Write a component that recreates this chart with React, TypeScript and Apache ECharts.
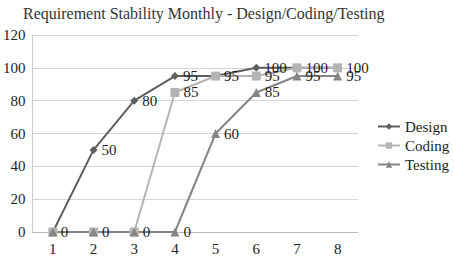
import React, { useEffect, useRef } from "react";
import * as echarts from "echarts";

const categories = ["1", "2", "3", "4", "5", "6", "7", "8"];
const design = [0, 50, 80, 95, 95, 100, 100, 100];
const coding = [0, 0, 0, 85, 95, 95, 100, 100];
const testing = [0, 0, 0, 0, 60, 85, 95, 95];
// labels hidden where an identical label of another series sits on the same spot
const designHiddenLabels = [4, 6, 7];
const codingHiddenLabels = [0];
const testingHiddenLabels = [0, 1, 2];
const yTicks = { min: 0, max: 120, interval: 20 };

const FONT = "Liberation Serif";

export default function App() {
  const ref = useRef<HTMLDivElement>(null);
  useEffect(() => {
    document.body.style.margin = "0";
    const chart = echarts.init(ref.current!, null, { renderer: "svg" });
    const lbl = { show: true, position: "right", color: "#222", fontFamily: FONT, fontSize: 15, distance: 4 };
    const mk = (name: string, data: number[], hidden: number[], color: string, symbol: string, size: number, lw: number) => ({
      name,
      type: "line",
      data: data.map((v, i) => (hidden.includes(i) ? { value: v, label: { show: false } } : v)),
      symbol,
      symbolSize: size,
      lineStyle: { color, width: lw },
      itemStyle: { color },
      label: lbl,
    });
    chart.setOption({
      animation: false,
      textStyle: { fontFamily: FONT },
      title: {
        text: "Requirement Stability Monthly - Design/Coding/Testing",
        left: 18,
        top: 0,
        textStyle: { fontFamily: FONT, fontSize: 16, fontWeight: "normal", color: "#333" },
      },
      legend: {
        orient: "vertical",
        left: 377,
        top: 119,
        padding: 0,
        itemWidth: 22,
        itemHeight: 8,
        itemGap: 4,
        textStyle: { fontFamily: FONT, fontSize: 15, color: "#222" },
        data: ["Design", "Coding", "Testing"],
      },
      grid: { left: 27, right: 96, top: 35, bottom: 30, containLabel: false },
      xAxis: {
        type: "category",
        data: categories,
        boundaryGap: true,
        axisLine: { show: true, lineStyle: { color: "#bbb" } },
        axisTick: { show: false },
        axisLabel: { fontFamily: FONT, fontSize: 15, color: "#222", margin: 9 },
      },
      yAxis: {
        type: "value",
        min: yTicks.min,
        max: yTicks.max,
        interval: yTicks.interval,
        axisLine: { show: true, lineStyle: { color: "#ccc" } },
        axisTick: { show: false },
        splitLine: { lineStyle: { color: "#d4d4d4" } },
        axisLabel: { fontFamily: FONT, fontSize: 15, color: "#222", margin: 7 },
      },
      series: [
        mk("Design", design, designHiddenLabels, "#5e5e5e", "diamond", 8, 2),
        mk("Coding", coding, codingHiddenLabels, "#b4b4b4", "rect", 9, 2),
        mk("Testing", testing, testingHiddenLabels, "#858585", "triangle", 9, 2),
      ],
    });
    return () => chart.dispose();
  }, []);
  return <div ref={ref} style={{ width: 454, height: 262 }} />;
}
